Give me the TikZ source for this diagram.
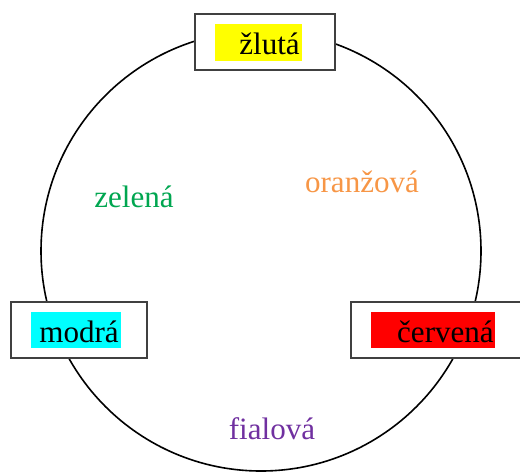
\documentclass[tikz,border=0pt]{standalone}
\usepackage{fontspec}
\setmainfont{Liberation Serif}
\definecolor{cgreen}{RGB}{0,166,80}
\definecolor{corange}{RGB}{247,150,70}
\definecolor{cpurple}{RGB}{112,48,160}
\definecolor{cbox}{RGB}{64,64,64}
\definecolor{hyellow}{RGB}{255,255,0}
\definecolor{hcyan}{RGB}{0,255,255}
\definecolor{hred}{RGB}{255,0,0}
\begin{document}
\begin{tikzpicture}[x=0.75pt,y=-0.75pt,
  frame/.style={draw=cbox,line width=0.9pt,fill=white,rectangle,inner sep=0pt},
  lbl/.style={font=\fontsize{23.3pt}{26pt}\selectfont,inner sep=0pt,anchor=base},
  hl/.style={rectangle,inner sep=0pt}]
\useasboundingbox (0,0) rectangle (520,472);
\node[draw=black,line width=1.2pt,circle,minimum size=440*0.75pt,inner sep=0pt] (ring) at (261,251) {};
% top
\node[frame,minimum width=140*0.75pt,minimum height=56*0.75pt] (ybox) at (265,42) {};
\node[hl,fill=hyellow,minimum width=87*0.75pt,minimum height=37*0.75pt] (yfill) at (258.5,42.5) {};
\node[lbl,anchor=base east] (ytxt) at (300,54) {žlutá};
% left
\node[frame,minimum width=136*0.75pt,minimum height=56*0.75pt] (bbox) at (79,330) {};
\node[hl,fill=hcyan,minimum width=90*0.75pt,minimum height=36*0.75pt] (bfill) at (76,330) {};
\node[lbl,anchor=base east] (btxt) at (119,342) {modrá};
% right
\node[frame,minimum width=180*0.75pt,minimum height=56*0.75pt] (rbox) at (441,330) {};
\node[hl,fill=hred,minimum width=124*0.75pt,minimum height=36*0.75pt] (rfill) at (433,330) {};
\node[lbl,anchor=base east] (rtxt) at (494,342) {červená};
% inner labels
\node[lbl,text=cgreen] (g) at (134,207) {zelená};
\node[lbl,text=corange] (o) at (362,192) {oranžová};
\node[lbl,text=cpurple] (p) at (272,439) {fialová};
\end{tikzpicture}
\end{document}
